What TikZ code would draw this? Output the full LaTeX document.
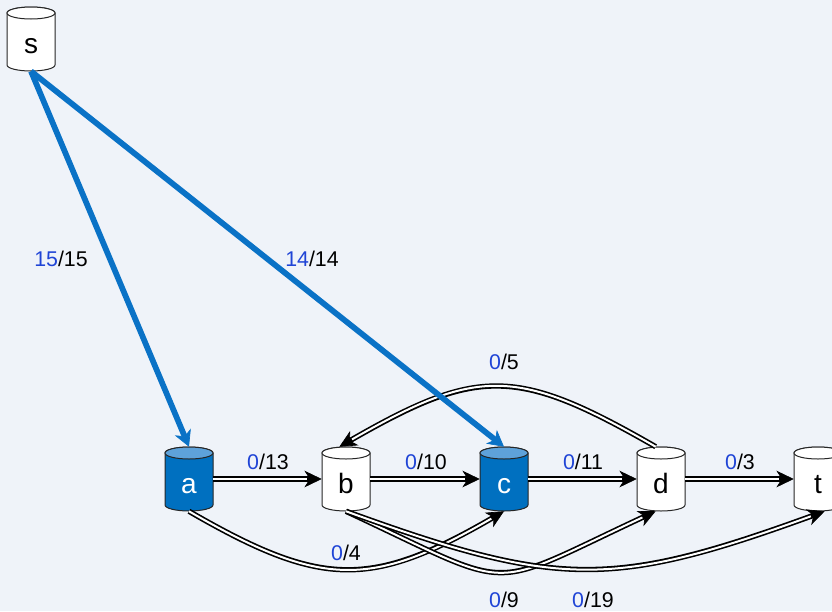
\documentclass[tikz,border=0pt]{standalone}
\usepackage{fontspec}
\setmainfont{Liberation Sans}
\usetikzlibrary{arrows.meta,calc}

\definecolor{bg}{HTML}{EFF3F9}
\definecolor{flowblue}{HTML}{0A72C6}
\definecolor{cylblue}{HTML}{0070C0}
\definecolor{cyltop}{HTML}{5EA2DA}
\definecolor{flowtxt}{HTML}{1F44D6}

\tikzset{
  tankbox/.style={rectangle, minimum width=36pt, minimum height=48pt, inner sep=0pt},
  tanklabel/.style={anchor=base, inner sep=0pt, font=\fontsize{21}{23}\selectfont},
  flowlbl/.style={inner sep=1pt, font=\fontsize{16}{18}\selectfont},
  pipe/.style={draw=black, line width=4pt,
    -{Stealth[length=13pt, width=12.5pt, inset=4pt, line width=0.5pt]},
    postaction={draw=white, line width=1.5pt, arrows=-, shorten >=11pt}},
  srcflow/.style={draw=flowblue, line width=4.3pt,
    -{Stealth[length=12pt, width=13pt, inset=3.5pt, line width=0.5pt]}},
}

% cylinder tank: name, x, y, body fill, top fill, text colour, letter
\newcommand\tank[7]{%
  \begin{scope}[shift={(#2,#3)}]
    \path[draw=black!85, line width=0.75pt, fill=#4]
      (-18pt,19.5pt) -- (-18pt,-19.5pt)
      arc[start angle=180, end angle=360, x radius=18pt, y radius=4.5pt]
      -- (18pt,19.5pt)
      arc[start angle=0, end angle=180, x radius=18pt, y radius=4.5pt] -- cycle;
    \path[draw=black!85, line width=0.75pt, fill=#5]
      (0pt,19.5pt) ellipse[x radius=18pt, y radius=4.5pt];
  \end{scope}
  \node[tankbox] (#1) at (#2,#3) {};
  \node[tanklabel, text=#6] (#1-name) at (#2,#3+14) {#7};
}
\newcommand\flowval[2]{\textcolor{flowtxt}{#1}/#2}

\begin{document}
\begin{tikzpicture}[x=0.75pt, y=-0.75pt]
  \fill[bg] (0,0) rectangle (832,611);
  \useasboundingbox (0,0) rectangle (832,611);

  % tanks
  \tank{s}{31}{39}{white}{white}{black}{s}
  \tank{a}{189}{479}{cylblue}{cyltop}{white}{a}
  \tank{b}{346}{479}{white}{white}{black}{b}
  \tank{c}{504}{479}{cylblue}{cyltop}{white}{c}
  \tank{d}{661}{479}{white}{white}{black}{d}
  \tank{t}{818}{479}{white}{white}{black}{t}

  % straight pipes
  \draw[pipe] (a) -- (b);
  \draw[pipe] (b) -- (c);
  \draw[pipe] (c) -- (d);
  \draw[pipe] (d) -- (t);

  % curved pipes
  \draw[pipe] ([xshift=-4pt]d.north) .. controls +(-139,-80) and +(139,-80) .. ([xshift=-5pt]b.north);
  \draw[pipe] (a.south) .. controls +(133,77) and +(-133,77) .. (c.south);
  \draw[pipe] (b.south) .. controls +(174,81) and +(-174,81) .. ([xshift=-4pt]d.south);
  \draw[pipe] (b.south) .. controls +(212,77) and +(-212,77) .. ([xshift=5pt]t.south);

  % source pipes
  \draw[srcflow] (s.south) -- (a.north);
  \draw[srcflow] (s.south) -- (c.north);

  % flow / capacity labels
  \node[flowlbl] (l-sa) at (61,259) {\flowval{15}{15}};
  \node[flowlbl] (l-sc) at (312,259) {\flowval{14}{14}};
  \node[flowlbl] (l-ab) at (268,462) {\flowval{0}{13}};
  \node[flowlbl] (l-bc) at (426,462) {\flowval{0}{10}};
  \node[flowlbl] (l-cd) at (583,462) {\flowval{0}{11}};
  \node[flowlbl] (l-dt) at (740,462) {\flowval{0}{3}};
  \node[flowlbl] (l-db) at (504,362) {\flowval{0}{5}};
  \node[flowlbl] (l-ac) at (346,553) {\flowval{0}{4}};
  \node[flowlbl] (l-bd) at (504,600) {\flowval{0}{9}};
  \node[flowlbl] (l-bt) at (593,600) {\flowval{0}{19}};
\end{tikzpicture}
\end{document}
